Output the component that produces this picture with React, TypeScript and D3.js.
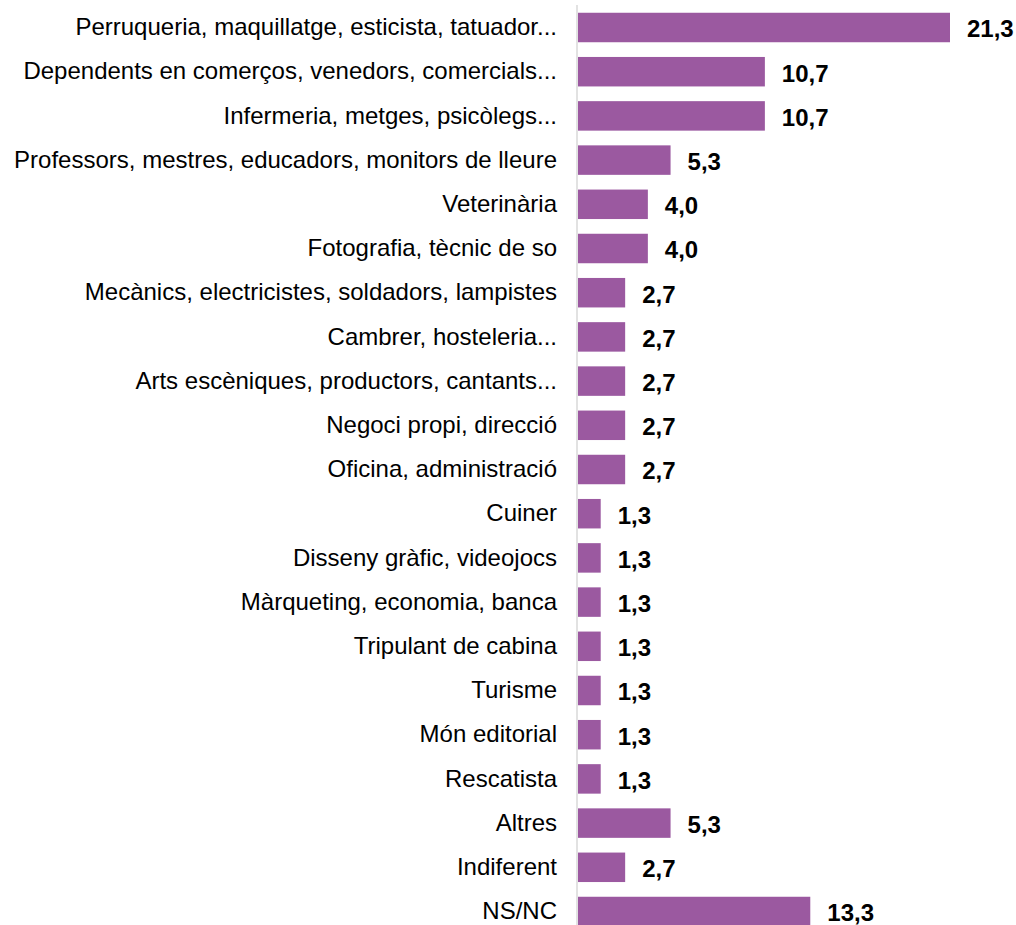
import React from "react";
import * as d3 from "d3";

const categories = [
  "Perruqueria, maquillatge, esticista, tatuador...",
  "Dependents en comerços, venedors, comercials...",
  "Infermeria, metges, psicòlegs...",
  "Professors, mestres, educadors, monitors de lleure",
  "Veterinària",
  "Fotografia, tècnic de so",
  "Mecànics, electricistes, soldadors, lampistes",
  "Cambrer, hosteleria...",
  "Arts escèniques, productors, cantants...",
  "Negoci propi, direcció",
  "Oficina, administració",
  "Cuiner",
  "Disseny gràfic, videojocs",
  "Màrqueting, economia, banca",
  "Tripulant de cabina",
  "Turisme",
  "Món editorial",
  "Rescatista",
  "Altres",
  "Indiferent",
  "NS/NC",
];

const values = [21.3, 10.7, 10.7, 5.3, 4.0, 4.0, 2.7, 2.7, 2.7, 2.7, 2.7, 1.3, 1.3, 1.3, 1.3, 1.3, 1.3, 1.3, 5.3, 2.7, 13.3];

const W = 1016;
const H = 925;
const BAR_COLOR = "#9b59a0";

export default function App() {
  const x = d3.scaleLinear().domain([0, 21.3]).range([578, 950]);
  const y = d3
    .scaleBand<string>()
    .domain(categories)
    .range([5.4, 5.4 + 21 * 44.2])
    .paddingInner(0.333)
    .paddingOuter(0.1665);
  const fmt = (v: number) => v.toFixed(1).replace(".", ",");
  const font = "'Liberation Sans', Arial, sans-serif";

  return (
    <svg
      width={W}
      height={H}
      style={{ position: "absolute", left: 0, top: 0, background: "#fff" }}
    >
      {categories.map((c, i) => {
        const yy = y(c)!;
        const bw = y.bandwidth();
        return (
          <g key={c}>
            <rect x={x(0)} y={yy} width={x(values[i]) - x(0)} height={bw} fill={BAR_COLOR} />
            <text
              x={557}
              y={yy + bw / 2}
              dy="0.32em"
              textAnchor="end"
              fontFamily={font}
              fontSize={24}
              fill="#000"
            >
              {c}
            </text>
            <text
              x={x(values[i]) + 17}
              y={yy + bw / 2 + 1.5}
              dy="0.35em"
              textAnchor="start"
              fontFamily={font}
              fontSize={24}
              fontWeight="bold"
              fill="#000"
            >
              {fmt(values[i])}
            </text>
          </g>
        );
      })}
      <line x1={577} x2={577} y1={5} y2={H} stroke="#d9d9d9" strokeWidth={1.5} />
    </svg>
  );
}
